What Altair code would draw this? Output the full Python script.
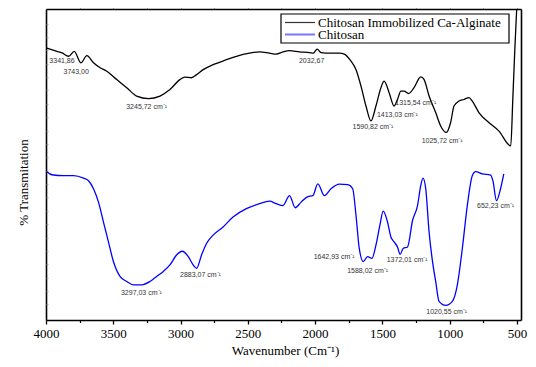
import altair as alt
import pandas as pd

# Chitosan Immobilized Ca-Alginate (black)
black_wn = [3993, 3919, 3881, 3832, 3790, 3741, 3696, 3647, 3598, 3548, 3474, 3400, 3326, 3239,
            3153, 3079, 3005, 2968, 2919, 2881, 2832, 2758, 2659, 2585, 2487, 2413, 2339, 2289,
            2239, 2190, 2116, 2042, 2013, 1985, 1956, 1894, 1820, 1783, 1733, 1696, 1659, 1622,
            1585, 1548, 1511, 1487, 1450, 1413, 1388, 1363, 1339, 1306, 1265, 1215, 1190, 1153,
            1104, 1067, 1025, 993, 968, 931, 894, 857, 832, 783, 709, 635, 546, 531, 516, 502]
black_t = [87.4, 86.4, 85.9, 84.8, 86.4, 82.7, 85.0, 82.7, 81.1, 80.0, 77.3, 74.7, 72.0, 71.2,
           72.0, 74.1, 77.3, 78.1, 77.9, 78.9, 80.5, 82.1, 83.7, 84.8, 85.8, 86.2, 85.8, 85.5,
           86.2, 86.6, 86.2, 86.0, 85.8, 87.1, 86.0, 85.8, 85.8, 85.5, 83.2, 80.5, 75.2, 68.8,
           64.0, 68.8, 74.7, 76.8, 73.1, 68.8, 70.9, 73.6, 73.6, 72.8, 74.7, 78.2, 77.3, 72.0,
           66.7, 62.4, 60.3, 63.5, 68.8, 70.4, 70.9, 71.5, 70.4, 66.7, 63.5, 60.8, 56.0, 70.9,
           86.9, 100.0]

# Chitosan (blue)
blue_wn = [3993, 3956, 3869, 3795, 3721, 3684, 3647, 3610, 3573, 3536, 3499, 3450, 3400, 3350,
           3289, 3227, 3178, 3128, 3079, 3030, 2987, 2943, 2906, 2881, 2844, 2807, 2758, 2684,
           2610, 2511, 2413, 2339, 2289, 2239, 2190, 2148, 2104, 2054, 2017, 1980, 1931, 1882,
           1820, 1758, 1721, 1696, 1672, 1642, 1610, 1578, 1548, 1519, 1494, 1462, 1437, 1413,
           1388, 1368, 1346, 1313, 1276, 1239, 1215, 1198, 1178, 1153, 1124, 1104, 1079, 1030,
           980, 943, 906, 869, 832, 807, 758, 696, 679, 652, 622, 598]
blue_t = [47.7, 46.7, 46.4, 46.4, 45.6, 44.8, 42.2, 37.9, 31.5, 25.1, 18.8, 14.0, 12.4, 11.3,
          11.3, 12.4, 14.0, 15.6, 17.7, 20.9, 22.1, 20.4, 17.7, 16.6, 20.9, 24.6, 27.3, 29.9,
          33.1, 35.8, 37.4, 38.2, 37.4, 36.8, 40.0, 36.1, 37.9, 39.7, 40.0, 43.8, 40.0, 42.2,
          43.7, 43.5, 42.2, 33.6, 23.0, 18.8, 20.4, 19.8, 24.1, 30.4, 35.0, 31.5, 26.7, 25.1,
          23.5, 21.1, 23.0, 23.5, 32.0, 36.8, 43.2, 45.6, 42.2, 28.3, 17.7, 12.4, 6.0, 4.7,
          6.0, 11.3, 23.0, 36.8, 46.4, 47.7, 47.0, 46.6, 44.8, 38.4, 42.2, 47.0]

ann_text = ["3341,86", "3743,00", "3245,72 cm⁻¹", "2032,67", "1590,82 cm⁻¹", "1413,03 cm⁻¹",
            "1315,54 cm⁻¹", "1025,72 cm⁻¹", "3297,03 cm⁻¹", "2883,07 cm⁻¹", "1642,93 cm⁻¹",
            "1588,02 cm⁻¹", "1372,01 cm⁻¹", "1020,55 cm⁻¹", "652,23 cm⁻¹"]
ann_wn = [3881, 3776, 3252, 2026, 1570, 1389, 1252, 1056, 3291, 2852, 1859, 1610, 1316, 1022, 659]
ann_t = [83.2, 79.7, 68.6, 83.2, 62.1, 65.9, 69.9, 57.6, 8.6, 14.5, 20.4, 15.8, 19.3, 2.6, 36.6]

series_names = ["Chitosan Immobilized Ca-Alginate", "Chitosan"]
major_ticks = [4000, 3500, 3000, 2500, 2000, 1500, 1000, 500]
minor_ticks = [3750, 3250, 2750, 2250, 1750, 1250, 750]
top_ticks = [3750, 3500, 3250, 3000, 2750, 2500, 2250, 2000, 1750, 1500, 1250, 1000, 750, 500]
y_ticks = [5, 9.3, 13.6, 17.9, 22.2, 26.5, 30.8, 35.1, 39.4, 43.7, 48.0, 52.3, 56.6, 60.9,
           65.2, 69.5, 73.8, 78.1, 82.4, 86.7, 91.0, 95.3]

W, H = 475, 311
SERIF = "Liberation Serif"
SANS = "Liberation Sans"

xdom = alt.Scale(domain=[4000, 470], nice=False, zero=False)
ydom = alt.Scale(domain=[0, 100], nice=False, zero=False)

df_black = pd.DataFrame({"wn": black_wn, "t": black_t, "series": series_names[0]})
df_blue = pd.DataFrame({"wn": blue_wn, "t": blue_t, "series": series_names[1]})
df_ann = pd.DataFrame({"wn": ann_wn, "t": ann_t, "label": ann_text})

black = alt.Chart(df_black).mark_line(color="black", strokeWidth=1.3, interpolate="monotone").encode(
    x=alt.X("wn:Q", scale=xdom,
            axis=alt.Axis(orient="bottom", values=major_ticks, format="d", tickSize=4, tickWidth=1.3,
                          tickColor="black", labelFont=SERIF, labelFontSize=13, labelColor="black",
                          labelPadding=3, labelFlush=False, labelOverlap=False,
                          domain=True, domainColor="black", domainWidth=1.6, grid=False,
                          title="Wavenumber (Cm⁻¹)", titleFont=SERIF, titleFontSize=13,
                          titleFontWeight="normal", titleColor="black",
                          titleX=239, titleY=34, titleBaseline="alphabetic", titleAnchor="start",
                          titleAlign="center")),
    y=alt.Y("t:Q", scale=ydom,
            axis=alt.Axis(orient="left", title="% Transmitation", labels=False, ticks=False,
                          domain=True, domainColor="black", domainWidth=1.6, grid=False,
                          titleFont=SERIF, titleFontSize=13,
                          titleFontWeight="normal", titleColor="black",
                          titleX=-19, titleY=173, titleAlign="center", titleBaseline="alphabetic",
                          titleAngle=270)),
)

blue = alt.Chart(df_blue).mark_line(color="#0000ff", strokeWidth=1.3, interpolate="monotone").encode(
    x=alt.X("wn:Q", scale=xdom,
            axis=alt.Axis(orient="bottom", values=minor_ticks, tickSize=2.5, tickWidth=1.2,
                          tickColor="black", labels=False, domain=False, grid=False, title=None)),
    y=alt.Y("t:Q", scale=ydom,
            axis=alt.Axis(orient="left", values=y_ticks, offset=-2, tickSize=2, tickWidth=0.8,
                          tickColor="#999999", labels=False, domain=False, grid=False, title=None)),
)

ann = alt.Chart(df_ann).mark_text(font=SANS, fontSize=7, color="#333333", align="center",
                                  baseline="middle").encode(
    x=alt.X("wn:Q", scale=xdom,
            axis=alt.Axis(orient="top", values=top_ticks, tickSize=2, tickWidth=0.8,
                          tickColor="#999999", labels=False, domain=True, domainColor="black",
                          domainWidth=1.6, grid=False, title=None)),
    y=alt.Y("t:Q", scale=ydom,
            axis=alt.Axis(orient="right", labels=False, ticks=False, domain=True,
                          domainColor="black", domainWidth=1.6, grid=False, title=None)),
    text="label:N",
)

# legend (box, sample lines, labels)
df_leg = pd.DataFrame({"name": series_names})
leg_box = alt.Chart(df_leg.head(1)).mark_rect(fill="white", stroke="black", strokeWidth=1.2).encode(
    x=alt.value(235), x2=alt.value(463), y=alt.value(5), y2=alt.value(34))
leg_line1 = alt.Chart(df_leg.head(1)).mark_rule(color="#333333", strokeWidth=1.2).encode(
    x=alt.value(239), x2=alt.value(269), y=alt.value(13.5))
leg_line2 = alt.Chart(df_leg.tail(1)).mark_rule(color="#7777ff", strokeWidth=2).encode(
    x=alt.value(239), x2=alt.value(269), y=alt.value(25.5))
leg_txt1 = alt.Chart(df_leg.head(1)).mark_text(font=SERIF, fontSize=13, color="black", align="left",
                                               baseline="alphabetic").encode(
    x=alt.value(272), y=alt.value(17.8), text="name:N")
leg_txt2 = alt.Chart(df_leg.tail(1)).mark_text(font=SERIF, fontSize=13, color="black", align="left",
                                               baseline="alphabetic").encode(
    x=alt.value(272), y=alt.value(30.3), text="name:N")

chart = alt.layer(black, blue, ann, leg_box, leg_line1, leg_line2, leg_txt1, leg_txt2).resolve_axis(
    x="independent", y="independent"
).properties(
    width=W, height=H,
    background="white",
    autosize=alt.AutoSizeParams(type="none"),
    padding={"left": 38, "top": 1, "right": 7, "bottom": 38},
).configure_view(stroke=None)

chart.save("out.html", embed_options={"renderer": "svg", "actions": False})
